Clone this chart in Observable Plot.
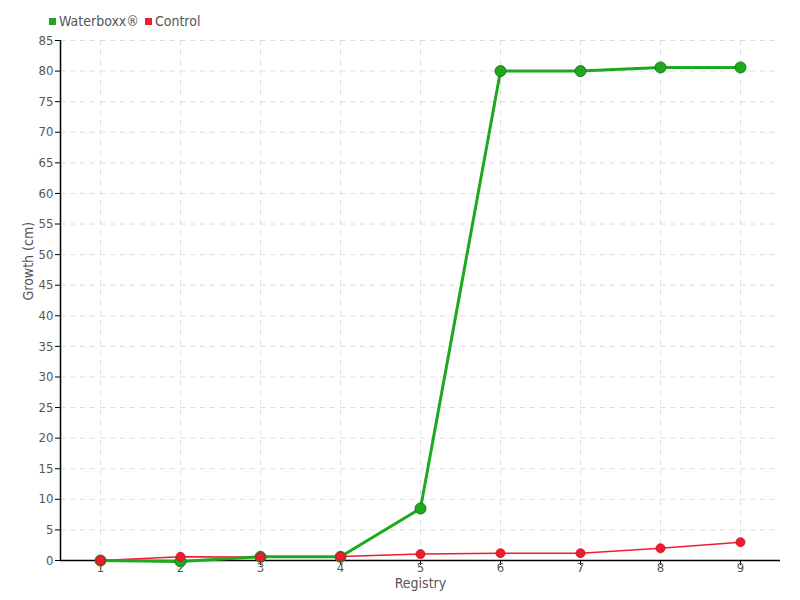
<!DOCTYPE html>
<html>
<head>
<meta charset="utf-8">
<script src="https://cdn.jsdelivr.net/npm/d3@7"></script>
<script src="https://cdn.jsdelivr.net/npm/@observablehq/plot@0.6"></script>
<style>
  body { margin: 0; background: #fff; font-family: "DejaVu Sans Condensed", "Liberation Sans Narrow", sans-serif; }
  #wrap { position: relative; width: 800px; height: 600px; }
  #legend { position: absolute; top: 13px; left: 49px; font-size: 14px; color: #555; display: flex; gap: 6px; align-items: center; }
  #legend span.sw { display: inline-block; width: 7px; height: 7px; margin-right: 3px; vertical-align: middle; }
  #legend .item { display: flex; align-items: center; }
</style>
</head>
<body>
<div id="wrap">
  <div id="legend"></div>
  <div id="chart"></div>
</div>
<script>
const registry = [1, 2, 3, 4, 5, 6, 7, 8, 9];
const waterboxx = [0, -0.15, 0.6, 0.6, 8.5, 80, 80, 80.6, 80.6];
const control = [0, 0.6, 0.55, 0.65, 1.05, 1.2, 1.2, 2.0, 3.0];
const seriesNames = ["Waterboxx®", "Control"];
const seriesColors = ["#1ea81e", "#ee1c2e"];
const yTicks = d3.range(0, 86, 5);

const data = [];
registry.forEach((r, i) => {
  data.push({series: seriesNames[0], x: r, y: waterboxx[i]});
  data.push({series: seriesNames[1], x: r, y: control[i]});
});
const wb = data.filter(d => d.series === seriesNames[0]);
const ct = data.filter(d => d.series === seriesNames[1]);

const legend = document.getElementById("legend");
seriesNames.forEach((n, i) => {
  const it = document.createElement("div");
  it.className = "item";
  it.innerHTML = `<span class="sw" style="background:${seriesColors[i]}"></span>${n}`;
  legend.appendChild(it);
});

const font = '"DejaVu Sans Condensed", "Liberation Sans Narrow", sans-serif';
const plot = Plot.plot({
  width: 800,
  height: 600,
  marginLeft: 60,
  marginRight: 20,
  marginTop: 40,
  marginBottom: 40,
  style: {fontFamily: font, fontSize: "14px", color: "#555"},
  x: {domain: [0.5, 9.5], ticks: registry, label: null},
  y: {domain: [0, 85], ticks: yTicks, label: null},
  marks: [
    Plot.gridX(registry, {stroke: "#ddd", strokeOpacity: 1, strokeDasharray: "5,5"}),
    Plot.gridY(yTicks.filter(t => t > 0), {stroke: "#ddd", strokeOpacity: 1, strokeDasharray: "5,5"}),
    Plot.ruleY([0], {stroke: "#000", strokeWidth: 1.5}),
    Plot.ruleX([0.5], {stroke: "#000", strokeWidth: 1.5}),
    Plot.axisY({ticks: yTicks, tickSize: 5, tickPadding: 2, stroke: "#000", fill: "#555", fontSize: 13, label: null}),
    Plot.axisX({ticks: registry, tickSize: 5, tickPadding: -3, stroke: "#000", fill: "#555", fontSize: 13, label: null}),
    Plot.text(["Registry"], {frameAnchor: "bottom", lineAnchor: "top", dy: 18, fill: "#555", fontSize: 14}),
    Plot.text(["Growth (cm)"], {frameAnchor: "left", dx: -32, rotate: -90, fill: "#555", fontSize: 14}),
    Plot.line(ct, {x: "x", y: "y", stroke: seriesColors[1], strokeWidth: 1.5}),
    Plot.line(wb, {x: "x", y: "y", stroke: seriesColors[0], strokeWidth: 3}),
    Plot.dot(wb, {x: "x", y: "y", r: 5.5, fill: seriesColors[0], stroke: "#1a7a1a", strokeWidth: 1}),
    Plot.dot(ct, {x: "x", y: "y", r: 4.5, fill: seriesColors[1], stroke: "#c8101e", strokeWidth: 0.8})
  ]
});
document.getElementById("chart").appendChild(plot);
</script>
</body>
</html>
